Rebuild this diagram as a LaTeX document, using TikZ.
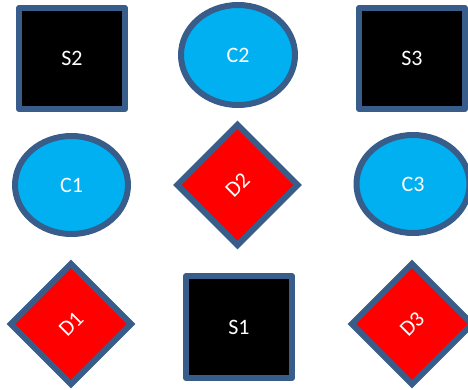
\documentclass[tikz,border=0pt]{standalone}
\usepackage{fontspec}
\setmainfont{Carlito}
\usetikzlibrary{shapes.geometric}
\definecolor{edgeblue}{HTML}{385D8A}
\definecolor{fillblue}{HTML}{00B0F0}
\definecolor{fillred}{HTML}{FF0000}
\begin{document}
\begin{tikzpicture}[x=1pt,y=1pt,
  shapebase/.style={draw=edgeblue,line width=6pt,line join=round,text=white,font=\fontsize{22}{26}\selectfont,inner sep=0pt},
  sqbox/.style={shapebase,rectangle,fill=black,minimum width=106pt,minimum height=101pt},
  ovalbox/.style={shapebase,ellipse,fill=fillblue,minimum width=114pt,minimum height=100pt},
  diabox/.style={shapebase,rectangle,fill=fillred,minimum width=85pt,minimum height=85pt,rotate=45,line join=miter}]
\useasboundingbox (0,0) rectangle (468,389);
\clip (0,0) rectangle (468,389);
\node[sqbox] (S2) at (72,330.5) {S2};
\node[ovalbox] (C2) at (238,334) {C2};
\node[sqbox] (S3) at (412,330.5) {S3};
\node[ovalbox,minimum width=113pt,minimum height=98pt] (C1) at (71.5,204) {C1};
\node[diabox] (D2) at (237.5,204) {D2};
\node[ovalbox,minimum width=113pt,minimum height=98pt] (C3) at (413,205) {C3};
\node[diabox] (D1) at (71,65) {D1};
\node[sqbox,minimum height=102pt] (S1) at (239,62) {S1};
\node[diabox] (D3) at (412,65) {D3};
\end{tikzpicture}
\end{document}
